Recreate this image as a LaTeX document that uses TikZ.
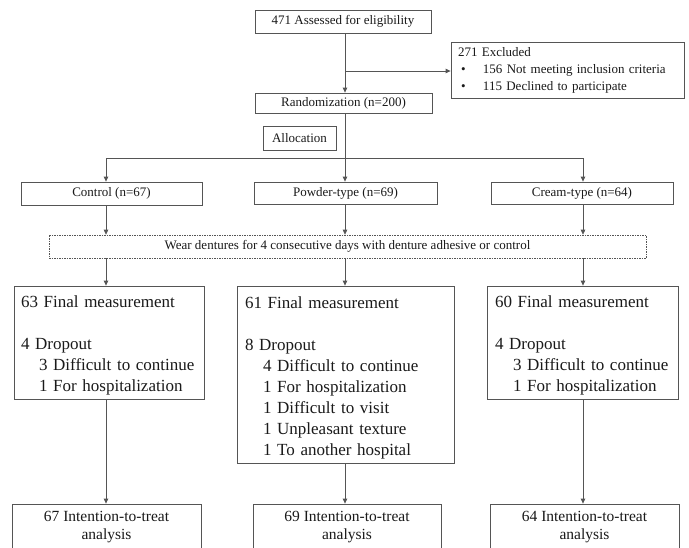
\documentclass[tikz,border=0pt]{standalone}
\usepackage{fontspec}
\setmainfont{Liberation Serif}
\usetikzlibrary{arrows.meta}
\definecolor{lc}{HTML}{555555}
\definecolor{tc}{HTML}{1A1A1A}
\newcommand{\toppad}{\rule{0pt}{18pt}}
\begin{document}
\begin{tikzpicture}[x=1pt,y=-1pt,
  box/.style={draw=lc, line width=0.8pt, inner sep=0pt, align=center, text=tc},
  ln/.style={draw=lc, line width=0.8pt},
  arr/.style={draw=lc, line width=0.8pt, -{Triangle[length=5pt,width=4.5pt]}},
  sm/.style={font=\fontsize{13}{16}\selectfont},
  big/.style={font=\fontsize{17}{21}\selectfont, align=left},
  itt/.style={font=\fontsize{15.5}{18}\selectfont, minimum height=46pt},
]
\useasboundingbox (0,0) rectangle (689,547);
\clip (0,0) rectangle (689,547);
\fill[white] (0,0) rectangle (689,547);

% column positions
\coordinate (cA) at (106,0);
\coordinate (cB) at (345,0);
\coordinate (cC) at (583,0);
\coordinate (br) at (345,71);
\coordinate (split) at (345,158);

% top part
\node[box,sm,minimum width=176pt,minimum height=23pt] (assess) at (343,21.5) {471 Assessed for eligibility};
\node[box,minimum width=233pt,minimum height=56pt,align=left,text width=219pt,
      font=\fontsize{13}{17}\selectfont] (excl) at (567.5,70)
  {271 Excluded\\
   \makebox[25pt][l]{\hspace*{3pt}\textbullet}156 Not meeting inclusion criteria\\
   \makebox[25pt][l]{\hspace*{3pt}\textbullet}115 Declined to participate};
\node[box,sm,minimum width=177pt,minimum height=20pt] (rand) at (343.5,103) {Randomization (n=200)};
\node[box,sm,minimum width=73pt,minimum height=24pt] (alloc) at (299.5,138) {Allocation};

% groups
\node[box,sm,minimum width=181pt,minimum height=23pt] (ctrl) at (111.5,193.5) {Control (n=67)};
\node[box,sm,minimum width=183pt,minimum height=22pt] (powd) at (345.5,193) {Powder-type (n=69)};
\node[box,sm,minimum width=182pt,minimum height=22pt] (cream) at (582,193) {Cream-type (n=64)};

\node[box,dash pattern=on 1.5pt off 1pt,line width=0.6pt,font=\fontsize{13}{15}\selectfont,
      minimum width=597pt,minimum height=23pt] (wear) at (347.5,246.5)
  {Wear dentures for 4 consecutive days with denture adhesive or control};

% final measurement
\node[box,big,text width=176pt,minimum width=190pt,minimum height=113pt] (fa) at (109,342.5)
  {\mbox{\toppad 63 Final measurement}\\[21pt]
   \mbox{4 Dropout}\\
   \mbox{\hspace*{18pt}3 Difficult to continue}\\
   \mbox{\hspace*{18pt}1 For hospitalization}};
\node[box,big,text width=201pt,minimum width=217pt,minimum height=177pt] (fb) at (345.5,374.5)
  {\mbox{\toppad 61 Final measurement}\\[21pt]
   \mbox{8 Dropout}\\
   \mbox{\hspace*{18pt}4 Difficult to continue}\\
   \mbox{\hspace*{18pt}1 For hospitalization}\\
   \mbox{\hspace*{18pt}1 Difficult to visit}\\
   \mbox{\hspace*{18pt}1 Unpleasant texture}\\
   \mbox{\hspace*{18pt}1 To another hospital}};
\node[box,big,text width=175pt,minimum width=191pt,minimum height=113pt] (fc) at (582.5,342.5)
  {\mbox{\toppad 60 Final measurement}\\[21pt]
   \mbox{4 Dropout}\\
   \mbox{\hspace*{18pt}3 Difficult to continue}\\
   \mbox{\hspace*{18pt}1 For hospitalization}};

% intention-to-treat
\node[box,itt,minimum width=189pt] (ia) at (106.5,527) {67 Intention-to-treat\\analysis};
\node[box,itt,minimum width=188pt] (ib) at (347,527) {69 Intention-to-treat\\analysis};
\node[box,itt,minimum width=189pt] (ic) at (584.5,527) {64 Intention-to-treat\\analysis};

% connectors
\draw[ln] (assess.south -| cB) -- (br);
\draw[arr] (br) -- (rand.north -| cB);
\draw[arr] (br) -- (br -| excl.west);
\draw[ln] (rand.south -| cB) -- (split);
\draw[ln] (split -| cA) -- (split -| cC);
\draw[arr] (split -| cA) -- (ctrl.north -| cA);
\draw[arr] (split -| cB) -- (powd.north -| cB);
\draw[arr] (split -| cC) -- (cream.north -| cC);
\draw[arr] (ctrl.south -| cA) -- (wear.north -| cA);
\draw[arr] (powd.south -| cB) -- (wear.north -| cB);
\draw[arr] (cream.south -| cC) -- (wear.north -| cC);
\draw[arr] (wear.south -| cA) -- (fa.north -| cA);
\draw[arr] (wear.south -| cB) -- (fb.north -| cB);
\draw[arr] (wear.south -| cC) -- (fc.north -| cC);
\draw[arr] (fa.south -| cA) -- (ia.north -| cA);
\draw[arr] (fb.south -| cB) -- (ib.north -| cB);
\draw[arr] (fc.south -| cC) -- (ic.north -| cC);
\end{tikzpicture}
\end{document}
